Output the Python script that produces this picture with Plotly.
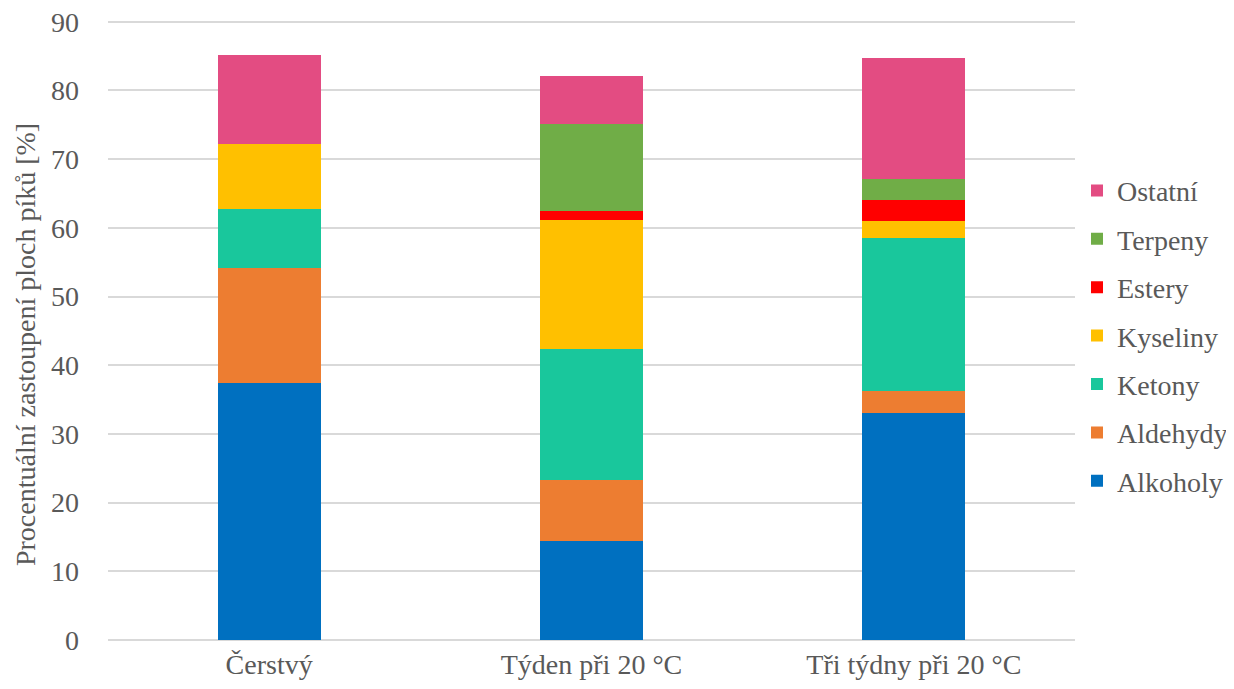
import plotly.graph_objects as go

categories = ["Čerstvý", "Týden při 20 °C", "Tři týdny při 20 °C"]
series_names = ["Alkoholy", "Aldehydy", "Ketony", "Kyseliny", "Estery", "Terpeny", "Ostatní"]
alkoholy = [37.4, 14.4, 33.0]
aldehydy = [16.8, 8.9, 3.3]
ketony = [8.5, 19.1, 22.2]
kyseliny = [9.5, 18.7, 2.5]
estery = [0.0, 1.4, 3.0]
terpeny = [0.0, 12.6, 3.1]
ostatni = [12.9, 7.0, 17.6]
colors = ["#0070C0", "#ED7D31", "#19C79C", "#FFC000", "#FF0000", "#70AD47", "#E34C82"]
y_ticks = [0, 10, 20, 30, 40, 50, 60, 70, 80, 90]
y_title = "Procentuální zastoupení ploch píků [%]"

values = [alkoholy, aldehydy, ketony, kyseliny, estery, terpeny, ostatni]

# page body has an 8px default margin, so the figure is 8px smaller and offset
W, H = 1226, 681
L, T = 100, 11
R = W - 1067
B = H - 632
pw = W - L - R

fig = go.Figure()
n = len(series_names)
for i, (name, vals, col) in enumerate(zip(series_names, values, colors)):
    fig.add_trace(go.Bar(name=name, x=categories, y=vals, marker=dict(color=col, line=dict(width=0)),
                         legendgroup=name, legendrank=n - i))

ff = "Liberation Serif"
txt = "#595959"
fig.update_layout(
    barmode="stack",
    bargap=0.68,
    width=W, height=H,
    margin=dict(l=L, r=R, t=T, b=B, autoexpand=False),
    paper_bgcolor="white", plot_bgcolor="white",
    font=dict(family=ff, color=txt, size=28),
    legend=dict(traceorder="grouped", tracegroupgap=9, x=(1069 - L) / pw, xanchor="left",
                y=0.49, yanchor="middle", font=dict(family=ff, size=28, color=txt), itemwidth=30),
    yaxis=dict(range=[0, 90.4], tickvals=y_ticks, showgrid=True, gridcolor="#D9D9D9", gridwidth=1.5,
               zeroline=True, zerolinecolor="#D9D9D9", zerolinewidth=1.5, automargin=False,
               tickfont=dict(family=ff, size=28, color=txt), ticks="", ticklabelstandoff=28,
               ticklabeloverflow="allow"),
    xaxis=dict(tickfont=dict(family=ff, size=28, color=txt), showline=False, ticks="", automargin=False,
               ticklabelstandoff=5, ticklabeloverflow="allow"),
    annotations=[dict(text=y_title, textangle=-90, xref="paper", yref="paper",
                      x=-(L - 17) / pw, y=0.475, xanchor="center", yanchor="middle", showarrow=False,
                      font=dict(size=28, color=txt, family=ff))],
)

fig.write_html("out.html")
